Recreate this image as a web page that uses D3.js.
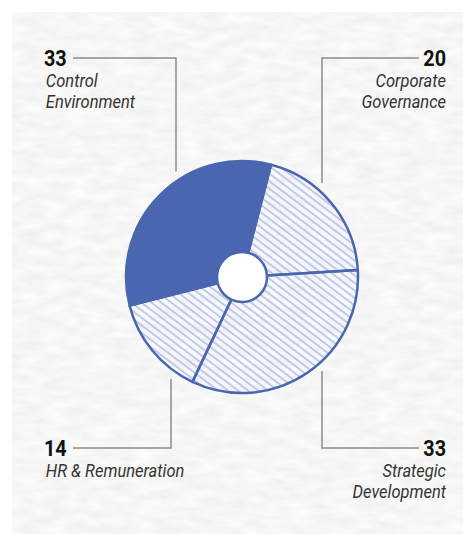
<!DOCTYPE html>
<html>
<head>
<meta charset="utf-8">
<script src="https://cdn.jsdelivr.net/npm/d3@7"></script>
<style>
  html, body { margin: 0; padding: 0; background: #fff; }
  svg { display: block; }
</style>
</head>
<body>
<div id="chart"></div>
<script>
const CATEGORIES = ["Corporate Governance", "Strategic Development", "HR & Remuneration", "Control Environment"];
const VALUES = [20, 33, 14, 33];
const SOLID = [false, false, false, true];
// label text, split in lines, and which corner it sits in
const LABEL_LINES = [["Corporate", "Governance"], ["Strategic", "Development"], ["HR & Remuneration"], ["Control", "Environment"]];
const CORNERS = ["top-right", "bottom-right", "bottom-left", "top-left"];

var width = 463, height = 534;
var cx = 242, cy = 277;
var outerR = 116, holeR = 25;
var blue = "#4a66b1";

var svg = d3.select("#chart")
  .append("svg")
  .attr("width", width)
  .attr("height", height);

var defs = svg.append("defs");

// paper texture
var paper = defs.append("filter")
  .attr("id", "paper")
  .attr("x", 0).attr("y", 0)
  .attr("width", 1).attr("height", 1);
paper.append("feTurbulence")
  .attr("type", "fractalNoise")
  .attr("baseFrequency", "0.045 0.12")
  .attr("numOctaves", 4)
  .attr("seed", 7);
paper.append("feColorMatrix")
  .attr("type", "matrix")
  .attr("values", "0.16 0 0 0 0.845  0.16 0 0 0 0.845  0.16 0 0 0 0.845  0 0 0 0 1");

var hatch = defs.append("pattern")
  .attr("id", "hatch")
  .attr("patternUnits", "userSpaceOnUse")
  .attr("width", 6)
  .attr("height", 6)
  .attr("patternTransform", "rotate(-53)");
hatch.append("line")
  .attr("x1", 3).attr("y1", -1)
  .attr("x2", 3).attr("y2", 7)
  .attr("stroke", "#a9b7e8")
  .attr("stroke-width", 1.4);

svg.append("rect")
  .attr("x", 12)
  .attr("y", 12)
  .attr("width", width - 12)
  .attr("height", height - 12)
  .attr("filter", "url(#paper)");

// pie
var pie = d3.pie()
  .sort(null)
  .startAngle(14.5 * Math.PI / 180)
  .endAngle((360 + 14.5) * Math.PI / 180);

var arc = d3.arc()
  .innerRadius(0)
  .outerRadius(outerR);

var g = svg.append("g")
  .attr("transform", "translate(" + cx + "," + cy + ")");

var arcs = pie(VALUES);

g.selectAll("path.slice")
  .data(arcs)
  .enter()
  .append("path")
  .attr("class", "slice")
  .attr("d", arc)
  .attr("fill", function(d, i) { return SOLID[i] ? blue : "url(#hatch)"; })
  .attr("stroke", blue)
  .attr("stroke-width", 2.5)
  .attr("stroke-linejoin", "round");

g.append("circle")
  .attr("r", holeR)
  .attr("fill", "#fff")
  .attr("stroke", blue)
  .attr("stroke-width", 2.5);

// leader lines + labels
var leaders = {
  "top-left":     {lx: 176, ly: 58, tx: 73},
  "top-right":    {lx: 322, ly: 58, tx: 419},
  "bottom-left":  {lx: 171, ly: 448, tx: 73},
  "bottom-right": {lx: 322, ly: 448, tx: 419}
};
var gap = 10;

CORNERS.forEach(function(c, i) {
  var L = leaders[c];
  var top = c.indexOf("top") === 0;
  var dx = L.lx - cx;
  var edge = Math.sqrt(outerR * outerR - dx * dx);
  var endY = top ? cy - edge - gap : cy + edge + gap;

  svg.append("path")
    .attr("d", "M" + L.tx + "," + L.ly + "H" + L.lx + "V" + endY)
    .attr("fill", "none")
    .attr("stroke", "#8c8c8c")
    .attr("stroke-width", 1.5);

  var left = c.indexOf("left") > 0;
  var ax = left ? 44 : 446;
  var numY = top ? 66 : 456;

  var tg = svg.append("g")
    .attr("transform", "translate(" + ax + ",0)")
    .style("text-anchor", left ? "start" : "end");

  tg.append("text")
    .attr("transform", "scale(0.88,1)")
    .attr("x", 0)
    .attr("y", numY)
    .text(VALUES[i])
    .style("font-family", "Roboto, sans-serif")
    .style("font-weight", "bold")
    .style("font-size", "22.5px")
    .style("fill", "#111");

  tg.selectAll("text.lab")
    .data(LABEL_LINES[i])
    .enter()
    .append("text")
    .attr("class", "lab")
    .attr("transform", "scale(0.915,1)")
    .attr("x", left ? 2 : 0)
    .attr("y", function(d, j) { return numY + 21.5 + j * 20.3; })
    .text(function(d) { return d; })
    .style("font-family", "Roboto, sans-serif")
    .style("font-style", "italic")
    .style("font-size", "18px")
    .style("fill", "#333");
});
</script>
</body>
</html>
